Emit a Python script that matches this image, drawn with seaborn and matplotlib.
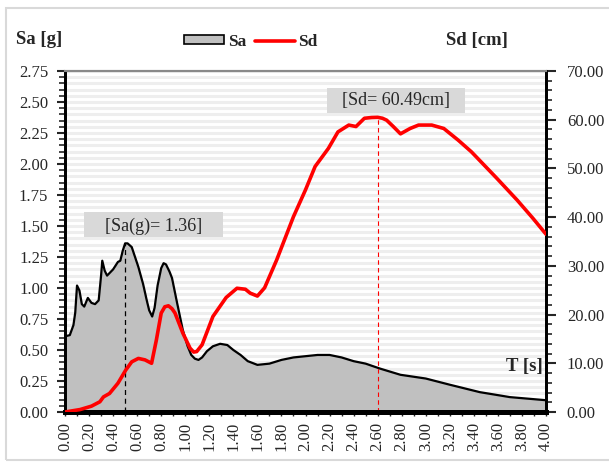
import numpy as np
import pandas as pd
import matplotlib
matplotlib.use("Agg")
import matplotlib.pyplot as plt
import seaborn as sns
from matplotlib.patches import Patch, Rectangle
from matplotlib.lines import Line2D
from matplotlib.ticker import MultipleLocator

# ---- data ----
T_sa = [0.00, 0.04, 0.07, 0.085, 0.10, 0.12, 0.14, 0.16, 0.19, 0.22, 0.25, 0.28, 0.30,
        0.31, 0.33, 0.35, 0.40, 0.44, 0.46, 0.48, 0.50, 0.52, 0.555, 0.61, 0.65, 0.68,
        0.70, 0.725, 0.745, 0.77, 0.80, 0.82, 0.84, 0.87, 0.89, 0.93, 0.98, 1.02, 1.05,
        1.08, 1.11, 1.14, 1.18, 1.23, 1.29, 1.35, 1.40, 1.46, 1.52, 1.60, 1.70, 1.80,
        1.90, 2.00, 2.10, 2.20, 2.30, 2.40, 2.50, 2.62, 2.79, 3.00, 3.20, 3.45, 3.70, 4.00]
sa = [0.61, 0.62, 0.70, 0.80, 1.02, 0.98, 0.87, 0.85, 0.92, 0.88, 0.87, 0.90, 1.10,
      1.22, 1.14, 1.10, 1.15, 1.21, 1.22, 1.30, 1.36, 1.36, 1.33, 1.17, 1.03, 0.90,
      0.82, 0.77, 0.84, 1.02, 1.16, 1.20, 1.19, 1.13, 1.08, 0.89, 0.66, 0.53, 0.46,
      0.43, 0.42, 0.44, 0.49, 0.53, 0.55, 0.54, 0.50, 0.46, 0.41, 0.38, 0.39, 0.42,
      0.44, 0.45, 0.46, 0.46, 0.44, 0.41, 0.39, 0.35, 0.30, 0.27, 0.22, 0.16, 0.12, 0.095]

T_sd = [0.00, 0.125, 0.22, 0.29, 0.32, 0.37, 0.44, 0.505, 0.555, 0.61, 0.665, 0.72, 0.76,
        0.80, 0.83, 0.86, 0.89, 0.915, 0.98, 1.04, 1.07, 1.095, 1.14, 1.23, 1.34, 1.43,
        1.50, 1.54, 1.60, 1.66, 1.76, 1.90, 2.00, 2.08, 2.19, 2.27, 2.36, 2.42, 2.49, 2.55,
        2.60, 2.64, 2.675, 2.73, 2.79, 2.87, 2.94, 3.05, 3.15, 3.27, 3.38, 3.59, 3.76,
        3.89, 4.00]
sd = [0.0, 0.5, 1.2, 2.1, 3.1, 3.8, 5.9, 8.6, 10.3, 11.0, 10.7, 10.0, 14.8,
      20.3, 21.6, 21.8, 21.2, 20.3, 16.2, 13.1, 12.3, 12.4, 13.8, 19.6, 23.5, 25.4,
      25.2, 24.4, 23.8, 25.5, 31.2, 40.1, 45.6, 50.4, 54.1, 57.5, 58.9, 58.6, 60.3, 60.45,
      60.49, 60.3, 59.9, 58.6, 57.1, 58.2, 58.9, 58.9, 58.2, 55.8, 53.4, 48.0, 43.5,
      39.8, 36.5]

sa_peak_T, sa_peak = 0.50, 1.36
sd_peak_T, sd_peak = 2.60, 60.49

x_ticks = [round(0.2 * i, 2) for i in range(21)]
x_tick_labels = [f"{v:.2f}" for v in x_ticks]
sa_ticks = [0.25 * i for i in range(12)]
sd_ticks = [10 * i for i in range(8)]

df_sa = pd.DataFrame({"T": T_sa, "Sa": sa})
df_sd = pd.DataFrame({"T": T_sd, "Sd": sd})

# ---- style ----
sns.set_style("white")
plt.rcParams["font.family"] = ["Liberation Serif", "DejaVu Serif"]

W, H = 609, 463
fig = plt.figure(figsize=(W / 100, H / 100), dpi=100)
fig.patch.set_facecolor("white")

L, R, B, Tp = 65, 546, 412, 71
ax = fig.add_axes([L / W, 1 - B / H, (R - L) / W, (B - Tp) / H])
ax2 = ax.twinx()

# striped background grid
ax.set_axisbelow(True)
ax.yaxis.set_minor_locator(MultipleLocator(0.05))
ax.grid(which="both", axis="y", color="#eeeeee", linewidth=2.2)
ax.grid(which="both", axis="x", visible=False)

# Sa area
ax.fill_between(df_sa["T"], 0, df_sa["Sa"], color="#c0c0c0", linewidth=0, zorder=2)
sns.lineplot(data=df_sa, x="T", y="Sa", ax=ax, color="black", linewidth=1.6, zorder=3,
             sort=False, estimator=None)
ax.plot([sa_peak_T, sa_peak_T], [0, sa_peak], color="black", linestyle=(0, (4, 3)),
        linewidth=0.9, zorder=4)

# Sd line
sns.lineplot(data=df_sd, x="T", y="Sd", ax=ax2, color="#ff0000", linewidth=2.6, zorder=3,
             sort=False, estimator=None)
ax2.plot([sd_peak_T, sd_peak_T], [0, sd_peak], color="#ff0000", linestyle=(0, (4, 3)),
         linewidth=0.8, zorder=2)

ax.set_xlim(0, 4.0)
ax.set_ylim(0, 2.75)
ax2.set_ylim(0, 70)

ax.set_xticks(x_ticks)
ax.set_xticklabels(x_tick_labels, rotation=90, fontsize=12)
ax.xaxis.set_minor_locator(MultipleLocator(0.1))
ax.set_yticks(sa_ticks)
ax.set_yticklabels([f"{v:.2f}" for v in sa_ticks], fontsize=12)
ax2.set_yticks(sd_ticks)
ax2.set_yticklabels([f"{v:.2f}" for v in sd_ticks], fontsize=12)
ax2.yaxis.set_minor_locator(MultipleLocator(2))

ax.tick_params(axis="y", which="major", direction="out", length=6, width=1.5, left=True, pad=6)
ax.tick_params(axis="y", which="minor", direction="out", length=4, width=1.2, left=True)
ax.tick_params(axis="x", which="both", direction="out", length=3, width=1, bottom=True, pad=4)
ax2.tick_params(axis="y", which="major", direction="out", length=7, width=1.5, right=True, pad=8)
ax2.tick_params(axis="y", which="minor", direction="out", length=4, width=1.2, right=True)

ax.set_xlabel("")
ax.set_ylabel("")
ax2.set_ylabel("")

for a in (ax, ax2):
    a.spines["left"].set_color("black")
    a.spines["left"].set_linewidth(2)
    a.spines["right"].set_color("black")
    a.spines["right"].set_linewidth(2)
    a.spines["bottom"].set_color("black")
    a.spines["bottom"].set_linewidth(3.5)
    a.spines["top"].set_color("#888888")
    a.spines["top"].set_linewidth(1.5)

# annotation boxes and labels
ax.add_patch(Rectangle((0.158, 1.411), 1.314 - 0.158, 1.613 - 1.411, facecolor="#d9d9d9",
                       edgecolor="none", zorder=4))
ax.text((0.158 + 1.314) / 2, 1.50, "[Sa(g)= 1.36]", ha="center", va="center",
        fontsize=13, zorder=5)
ax2.add_patch(Rectangle((2.18, 61.4), 3.33 - 2.18, 66.5 - 61.4, facecolor="#d9d9d9",
                        edgecolor="none", zorder=4))
ax2.text((2.18 + 3.33) / 2, 63.9, "[Sd= 60.49cm]", ha="center", va="center",
         fontsize=13, zorder=5)

# axis titles
bold = dict(fontsize=13.5, fontweight="bold")
fig.text(16 / W, 1 - 40 / H, "Sa [g]", ha="left", va="center", **bold)
fig.text(508 / W, 1 - 40 / H, "Sd [cm]", ha="right", va="center", **bold)
fig.text(543 / W, 1 - 366 / H, "T [s]", ha="right", va="center", **bold)

# legend
handles = [Patch(facecolor="#c0c0c0", edgecolor="black", linewidth=1.2),
           Line2D([0], [0], color="#ff0000", linewidth=2.6)]
fig.legend(handles, ["Sa", "Sd"], loc="center", bbox_to_anchor=(251 / W, 1 - 42 / H), ncol=2,
           frameon=False, handlelength=2.3, handleheight=0.4, columnspacing=0.5,
           handletextpad=0.2, prop=dict(weight="bold", size=12.5))

# outer border
fig.patches.append(Rectangle((6 / W, 1 - 460 / H), (W + 10) / W, (460 - 8) / H,
                             transform=fig.transFigure, fill=False, edgecolor="#d9d9d9",
                             linewidth=1.5, zorder=0))

fig.savefig("out.png", dpi=100)
